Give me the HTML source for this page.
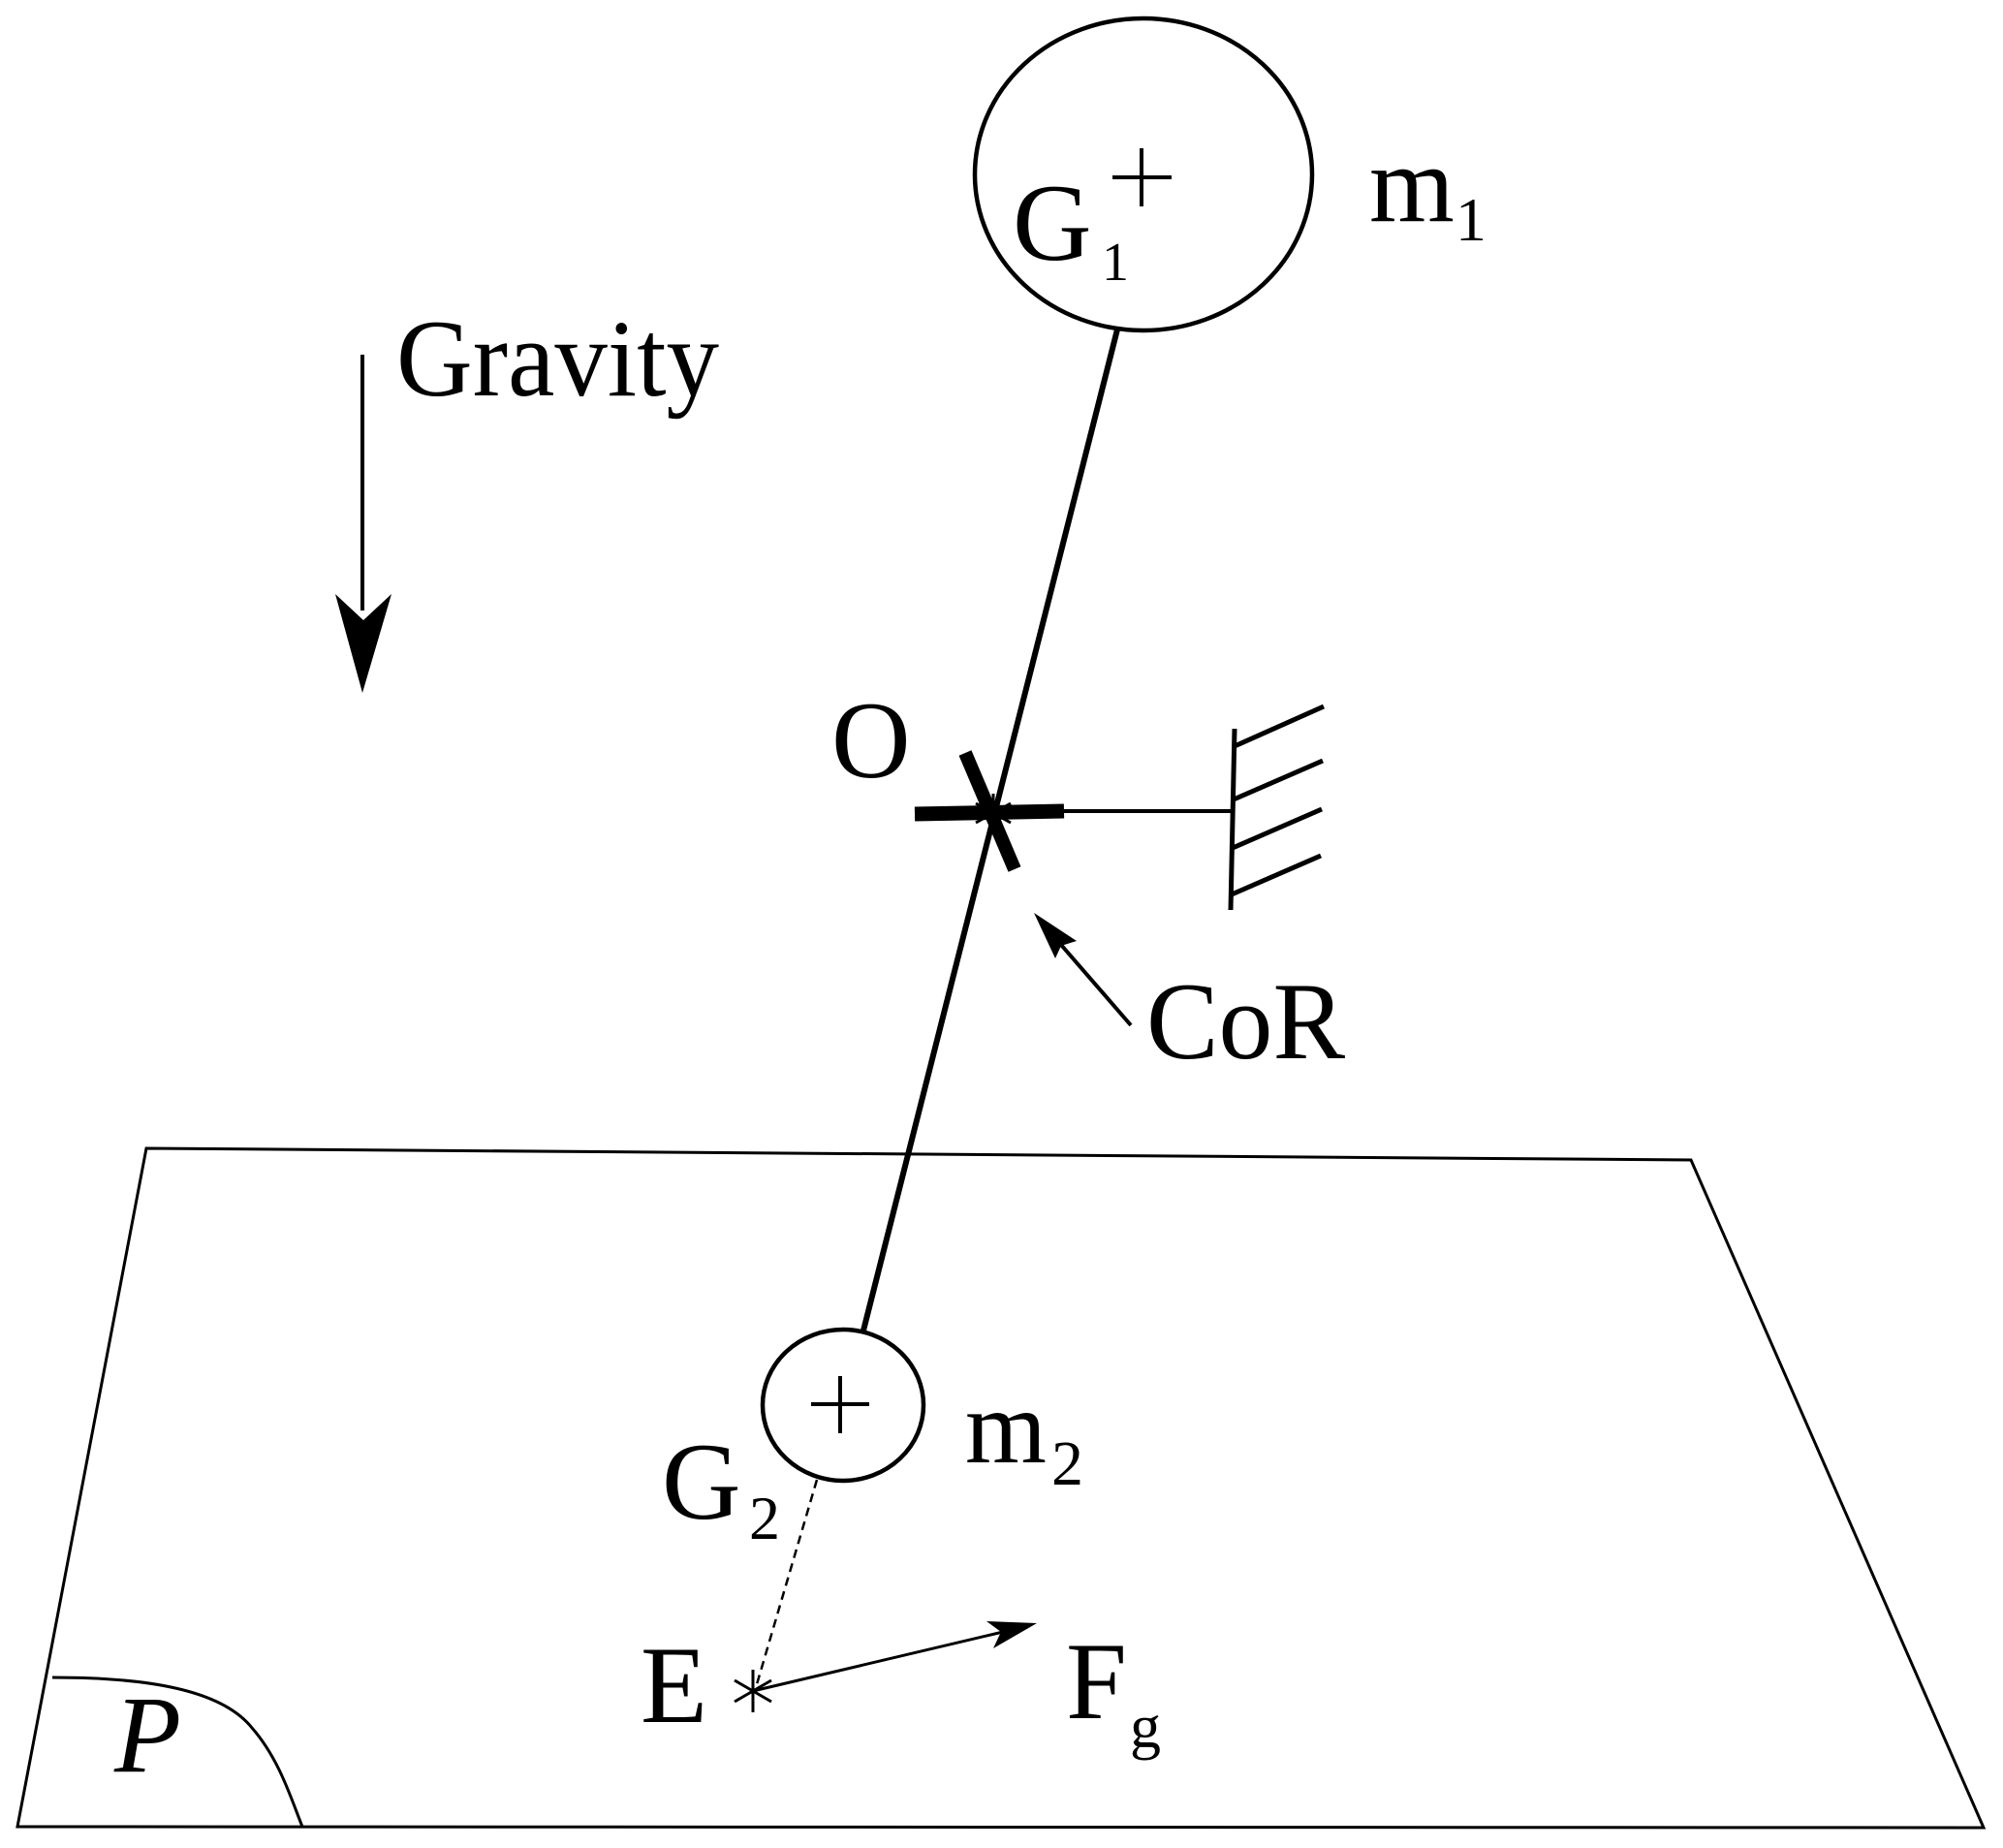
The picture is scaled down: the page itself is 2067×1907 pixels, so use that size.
<!DOCTYPE html>
<html>
<head>
<meta charset="utf-8">
<style>
  html, body { margin: 0; padding: 0; background: #fff; }
  svg { display: block; }
  text { font-family: "Liberation Serif", "DejaVu Serif", serif; fill: #000; }
</style>
</head>
<body>
<svg xmlns="http://www.w3.org/2000/svg" width="2067" height="1907" viewBox="0 0 2067 1907">
  <rect x="0" y="0" width="2067" height="1907" fill="#fff"/>

  <!-- Ground plane trapezoid -->
  <polygon points="151,1185 1745,1197 2047,1886 18,1885" fill="none" stroke="#000" stroke-width="3" stroke-linejoin="miter"/>

  <!-- P region curve -->
  <path d="M54,1731 C150,1731 228,1743 260,1783 C288,1815 300,1855 312,1885" fill="none" stroke="#000" stroke-width="3"/>
  <text x="118" y="1828" font-size="113" font-style="italic">P</text>

  <!-- Gravity arrow -->
  <line x1="374" y1="366" x2="374" y2="630" stroke="#000" stroke-width="4"/>
  <polygon points="374,715 346,613 375,640 404,613" fill="#000"/>
  <text x="409" y="408" font-size="113" textLength="333" lengthAdjust="spacingAndGlyphs">Gravity</text>

  <!-- Rod -->
  <line x1="1153" y1="340" x2="891" y2="1373" stroke="#000" stroke-width="6"/>

  <!-- Mass m1 -->
  <ellipse cx="1180" cy="180" rx="174" ry="161" fill="none" stroke="#000" stroke-width="4.5"/>
  <line x1="1178" y1="153" x2="1178" y2="213" stroke="#000" stroke-width="4"/>
  <line x1="1148" y1="183" x2="1209" y2="183" stroke="#000" stroke-width="4"/>
  <text x="1045" y="268" font-size="113">G</text>
  <text x="1137" y="289" font-size="56">1</text>
  <text x="1413" y="228" font-size="113">m</text>
  <text x="1502" y="248" font-size="64">1</text>

  <!-- Hinge O -->
  <text x="858" y="802" font-size="113">O</text>
  <!-- small asterisk under hinge -->
  <line x1="1025" y1="819" x2="1025" y2="859" stroke="#000" stroke-width="3"/>
  <line x1="1007" y1="829" x2="1043" y2="849" stroke="#000" stroke-width="3"/>
  <line x1="1007" y1="849" x2="1043" y2="829" stroke="#000" stroke-width="3"/>
  <!-- thick bars -->
  <line x1="944" y1="840" x2="1098" y2="837" stroke="#000" stroke-width="15"/>
  <line x1="996" y1="777" x2="1047" y2="897" stroke="#000" stroke-width="14"/>
  <!-- thin link to wall -->
  <line x1="1098" y1="837" x2="1272" y2="837" stroke="#000" stroke-width="4"/>
  <!-- wall -->
  <line x1="1274" y1="752" x2="1270" y2="939" stroke="#000" stroke-width="5"/>
  <line x1="1274" y1="770" x2="1366" y2="729" stroke="#000" stroke-width="5"/>
  <line x1="1273" y1="825" x2="1365" y2="785" stroke="#000" stroke-width="5"/>
  <line x1="1272" y1="875" x2="1364" y2="835" stroke="#000" stroke-width="5"/>
  <line x1="1271" y1="923" x2="1363" y2="883" stroke="#000" stroke-width="5"/>

  <!-- CoR arrow -->
  <line x1="1167" y1="1058" x2="1095" y2="975" stroke="#000" stroke-width="4"/>
  <polygon points="1067,942 1111,971 1095,976 1089,989" fill="#000"/>
  <text x="1183" y="1092" font-size="113" textLength="205" lengthAdjust="spacingAndGlyphs">CoR</text>

  <!-- Mass m2 -->
  <ellipse cx="870" cy="1450" rx="83" ry="78" fill="none" stroke="#000" stroke-width="4.5"/>
  <line x1="867" y1="1420" x2="867" y2="1479" stroke="#000" stroke-width="4"/>
  <line x1="837" y1="1449" x2="897" y2="1449" stroke="#000" stroke-width="4"/>
  <text x="996" y="1509" font-size="108">m</text>
  <text x="1085" y="1532" font-size="66">2</text>
  <text x="683" y="1567" font-size="113">G</text>
  <text x="773" y="1588" font-size="64">2</text>

  <!-- dashed projection -->
  <line x1="843" y1="1527" x2="781" y2="1738" stroke="#000" stroke-width="2.5" stroke-dasharray="9,6"/>

  <!-- E asterisk -->
  <line x1="777" y1="1723" x2="777" y2="1767" stroke="#000" stroke-width="3"/>
  <line x1="758" y1="1734" x2="796" y2="1756" stroke="#000" stroke-width="3"/>
  <line x1="758" y1="1756" x2="796" y2="1734" stroke="#000" stroke-width="3"/>
  <text x="661" y="1777" font-size="113">E</text>

  <!-- Fg arrow -->
  <line x1="777" y1="1745" x2="1035" y2="1684" stroke="#000" stroke-width="3"/>
  <polygon points="1070,1675 1025,1701 1033,1684 1018,1673" fill="#000"/>
  <text x="1100" y="1773" font-size="113">F</text>
  <text x="1166" y="1803" font-size="64">g</text>
</svg>
</body>
</html>
